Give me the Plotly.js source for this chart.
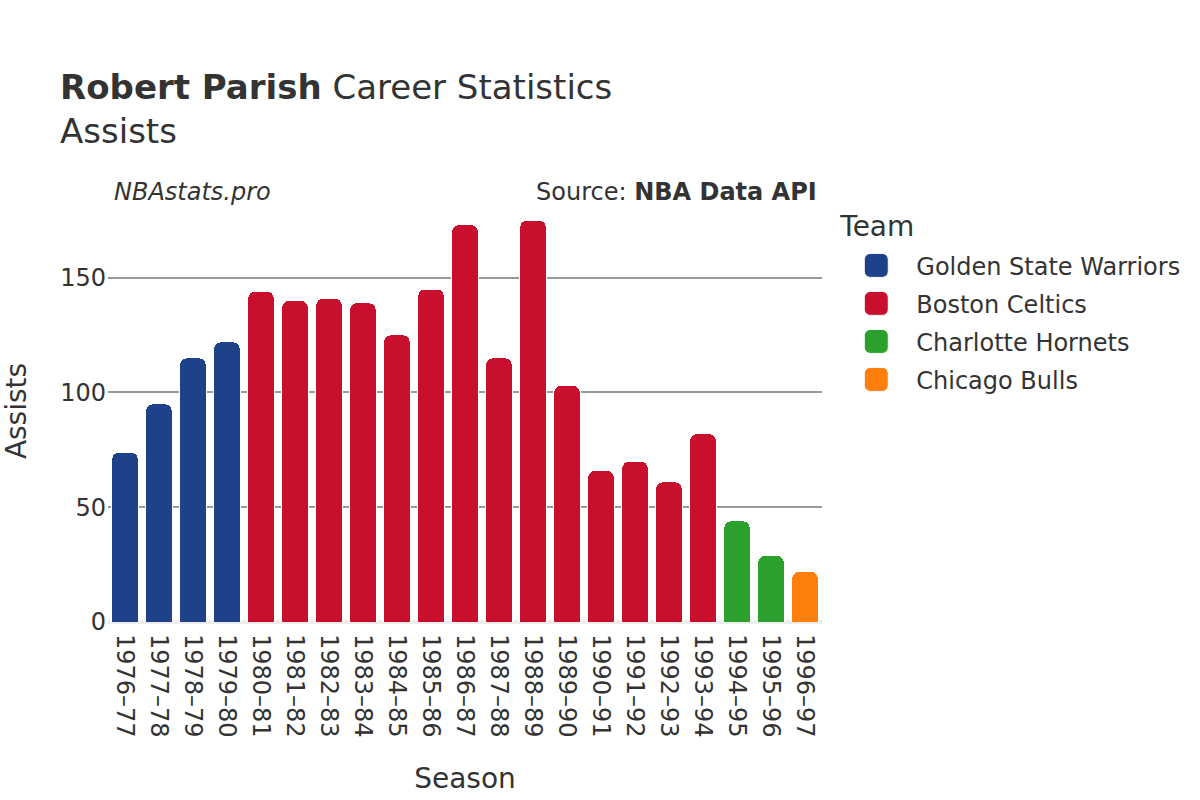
<!DOCTYPE html>
<html>
<head>
<meta charset="utf-8">
<script src="https://cdn.plot.ly/plotly-3.0.1.min.js"></script>
<style>
html,body{margin:0;padding:0;background:#fff;overflow:hidden}
#wrap{width:1200px;height:800px;overflow:hidden}
#chart{width:600px;height:400px;transform:scale(2);transform-origin:0 0}
</style>
</head>
<body>
<div id="wrap"><div id="chart"></div></div>
<script>
const gswSeasons = ["1976–77","1977–78","1978–79","1979–80"];
const gswAssists = [74, 95, 115, 122];
const bosSeasons = ["1980–81","1981–82","1982–83","1983–84","1984–85","1985–86","1986–87","1987–88","1988–89","1989–90","1990–91","1991–92","1992–93","1993–94"];
const bosAssists = [144, 140, 141, 139, 125, 145, 173, 115, 175, 103, 66, 70, 61, 82];
const chaSeasons = ["1994–95","1995–96"];
const chaAssists = [44, 29];
const chiSeasons = ["1996–97"];
const chiAssists = [22];

const teams = ["Golden State Warriors","Boston Celtics","Charlotte Hornets","Chicago Bulls"];
const colors = ["#1D428A","#C8102E","#2CA02C","#FF7F0E"];
const xs = [gswSeasons, bosSeasons, chaSeasons, chiSeasons];
const ys = [gswAssists, bosAssists, chaAssists, chiAssists];

const font = "DejaVu Sans, sans-serif";
const data = teams.map((t, i) => ({
  type: "bar",
  name: t,
  x: xs[i],
  y: ys[i],
  marker: {color: colors[i], line: {color: "#ffffff", width: 0.5}},
  hovertemplate: "%{x}: %{y}<extra>" + t + "</extra>"
}));

const layout = {
  width: 600, height: 400,
  paper_bgcolor: "#ffffff", plot_bgcolor: "#ffffff",
  font: {family: font, color: "#333333", size: 12},
  margin: {l: 54, r: 189, t: 100, b: 89, autoexpand: false},
  barmode: "stack",
  bargap: 0.22,
  barcornerradius: 3.5,
  title: {
    text: "<b>Robert Parish</b> Career Statistics<br>Assists",
    font: {family: font, size: 17, color: "#333333"},
    x: 0.05, xanchor: "left", y: 0.876, yanchor: "top"
  },
  xaxis: {
    title: {text: "Season", font: {size: 14, color: "#333333"}, standoff: 16},
    tickangle: 90,
    tickfont: {size: 12, color: "#333333"},
    ticklabelstandoff: 5,
    showgrid: false,
    showline: false,
    ticks: "",
    categoryorder: "array",
    categoryarray: [].concat(gswSeasons, bosSeasons, chaSeasons, chiSeasons)
  },
  yaxis: {
    title: {text: "Assists", font: {size: 14, color: "#333333"}, standoff: 14},
    tickfont: {size: 12, color: "#333333"},
    gridcolor: "#999999",
    gridwidth: 0.5,
    zeroline: true,
    zerolinecolor: "#eeeeee",
    zerolinewidth: 1.5,
    tickvals: [0, 50, 100, 150],
    range: [0, 183.75],
    ticks: ""
  },
  legend: {
    title: {text: "Team", font: {size: 14, color: "#333333"}},
    font: {size: 12, color: "#333333"},
    traceorder: "normal",
    x: 1.02, xanchor: "left", y: 1.0, yanchor: "top"
  },
  annotations: [
    {text: "<i>NBAstats.pro</i>", xref: "paper", yref: "paper", x: 0.0, y: 1.0, xanchor: "left", yanchor: "bottom", xshift: 1, yshift: -4.5, showarrow: false, font: {size: 12, color: "#333333"}},
    {text: "Source: <b>NBA Data API</b>", xref: "paper", yref: "paper", x: 1.0, y: 1.0, xanchor: "right", yanchor: "bottom", xshift: -1, yshift: -4.5, showarrow: false, font: {size: 12, color: "#333333"}}
  ]
};

Plotly.newPlot("chart", data, layout, {displayModeBar: false});
</script>
</body>
</html>
